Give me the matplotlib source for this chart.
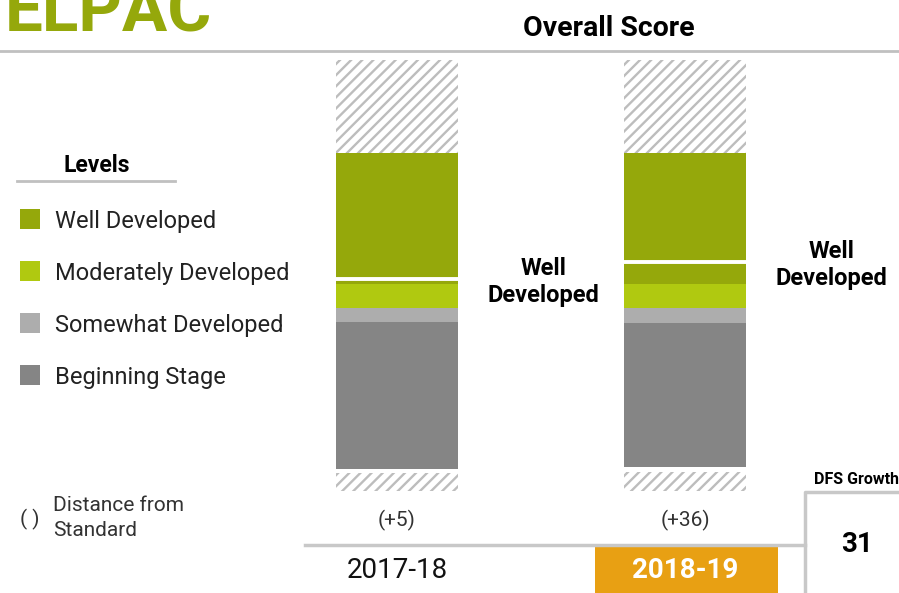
import matplotlib
matplotlib.use("Agg")
import matplotlib.pyplot as plt
import numpy as np

plt.rcParams['font.family'] = ['Roboto', 'DejaVu Sans']
plt.rcParams['hatch.linewidth'] = 1.7

# data (scale units measured from the bottom of each column)
years = ['2017-18', '2018-19']
dfs = ['(+5)', '(+36)']
dfs_growth = 31
levels = ['Well Developed', 'Moderately Developed', 'Somewhat Developed', 'Beginning Stage']
level_colors = ['#95a80b', '#b0c910', '#adadad', '#858585']
# segments from the bottom up: hatch, gap, beginning, somewhat, moderately, well, hatch
hatch_low = [18, 19]
gap = [4, 5]
beginning = [147, 144]
somewhat = [14, 15]
moderately = [24, 24]
well = [131, 131]
hatch_top = [93, 93]
score_mark = [212, 229]
level_label = ['Well\nDeveloped', 'Well\nDeveloped']

W, H = 899, 593
fig = plt.figure(figsize=(W / 100, H / 100), dpi=100)

# overlay axes in pixel units for the page furniture
ov = fig.add_axes([0, 0, 1, 1])
ov.set_xlim(0, W)
ov.set_ylim(H, 0)
ov.axis('off')

ov.text(5, 32, 'ELPAC', fontsize=48.5, fontweight='bold', color='#95a80b', va='baseline')
ov.plot([0, W], [51, 51], color='#c0c0c0', lw=2)
ov.text(609, 28, 'Overall Score', fontsize=20.5, fontweight='bold', ha='center', va='center')

# legend
ov.text(97, 165, 'Levels', fontsize=16.5, fontweight='bold', ha='center', va='center')
ov.plot([17, 175], [181, 181], color='#c0c0c0', lw=2)
for i, (lab, col) in enumerate(zip(levels, level_colors)):
    yc = 219 + 52 * i
    ov.add_patch(plt.Rectangle((20, yc - 10), 20, 20, color=col, lw=0))
    ov.text(55, yc + 2.5, lab, fontsize=17, ha='left', va='center', color='#222222')
ov.text(30, 519, '( )', fontsize=15, ha='center', va='center', color='#333333')
ov.text(53, 518, 'Distance from\nStandard', fontsize=15, ha='left', va='center',
        color='#333333', linespacing=1.4)

# bottom year strip
ov.plot([305, 805], [545, 545], color='#c8c8c8', lw=2.5)
ov.add_patch(plt.Rectangle((595, 547), 183, 46, color='#e8a013', lw=0))

# DFS growth box
ov.text(857, 479, 'DFS Growth', fontsize=11.5, fontweight='bold', ha='center', va='center')
ov.plot([805, 805, W], [593, 492, 492], color='#c8c8c8', lw=2.5)
ov.text(857, 544, str(dfs_growth), fontsize=20, fontweight='bold', ha='center', va='center')

# bar axes
ax = fig.add_axes([253 / W, 102 / H, 576 / W, 431 / H])
ax.set_xlim(-0.5, 1.5)
ax.set_ylim(0, 431)
ax.axis('off')
x = np.arange(len(years))
bw = 122 / 288

segs = [
    (hatch_low, 'white', True),
    (gap, 'white', False),
    (beginning, level_colors[3], False),
    (somewhat, level_colors[2], False),
    (moderately, level_colors[1], False),
    (well, level_colors[0], False),
    (hatch_top, 'white', True),
]
bottom = np.zeros(len(years))
for vals, col, hatched in segs:
    vals = np.array(vals, dtype=float)
    if hatched:
        ax.bar(x, vals, bw, bottom=bottom, color='white', edgecolor='#bdbdbd',
               linewidth=0, hatch='///')
    else:
        ax.bar(x, vals, bw, bottom=bottom, color=col, linewidth=0)
    bottom += vals

ax.hlines(score_mark, x - bw / 2, x + bw / 2, color='white', lw=2.8)

for i in range(len(years)):
    ax.text(x[i] + 0.5 + 0.01, score_mark[i] - 3, level_label[i],
            fontsize=17, fontweight='bold', ha='center', va='center', linespacing=1.25)
    ax.text(x[i], -29, dfs[i], fontsize=15, ha='center', va='center', color='#333333',
            clip_on=False)
    ax.text(x[i], -80, years[i], fontsize=20, ha='center', va='center',
            color='white' if i == 1 else '#111111',
            fontweight='bold' if i == 1 else 'normal', clip_on=False)

fig.savefig('out.png', dpi=100)
